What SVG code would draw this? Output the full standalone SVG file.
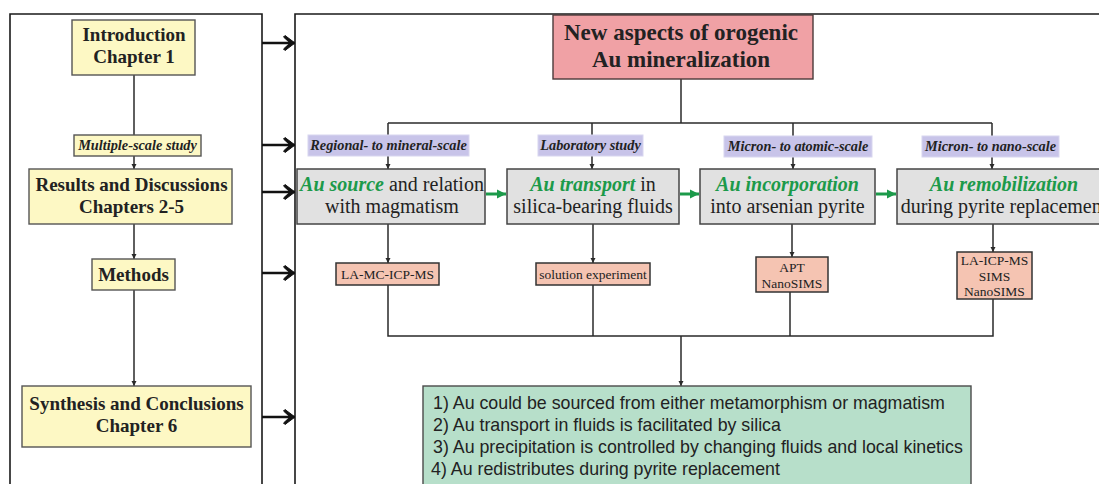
<svg xmlns="http://www.w3.org/2000/svg" width="1099" height="484" viewBox="0 0 1099 484">
<defs>
<style>
.frame{fill:none;stroke:#1a1a1a;stroke-width:1.6}
.ln{fill:none;stroke:#2a2a2a;stroke-width:1.5}
.yel{fill:#fdf8c4;stroke:#555;stroke-width:1.4}
.pink{fill:#f0a1a5;stroke:#4a3a3a;stroke-width:1.4}
.pur{fill:#c8c4e9;stroke:#d8d6ef;stroke-width:1}
.gray{fill:#e1e1e1;stroke:#444;stroke-width:1.5}
.meth{fill:#f5c4b2;stroke:#333;stroke-width:1.5}
.grn{fill:#b7dfca;stroke:#4a4a4a;stroke-width:1.4}
.tb{font-family:"Liberation Serif","Times New Roman",serif;font-weight:bold;fill:#222;text-anchor:middle}
.tl{font-family:"Liberation Serif","Times New Roman",serif;font-weight:bold;font-style:italic;font-size:14.3px;fill:#222;text-anchor:middle}
.tp{font-family:"Liberation Serif","Times New Roman",serif;font-size:20px;fill:#222;text-anchor:middle}
.g{fill:#1c9a4a;font-weight:bold;font-style:italic}
.tm{font-family:"Liberation Serif","Times New Roman",serif;font-size:13.5px;fill:#222;text-anchor:middle}
.ts{font-family:"Liberation Sans",Arial,sans-serif;font-size:17.8px;fill:#222}
.big{fill:none;stroke:#111;stroke-width:2.6}
.garr{fill:none;stroke:#1c9a4a;stroke-width:3}
</style>
<marker id="blk" markerUnits="userSpaceOnUse" markerWidth="16" markerHeight="18" refX="13" refY="8" orient="auto" viewBox="0 0 16 16">
<path d="M13,8 L3,0.5 L1.5,2 L8,8 L1.5,14 L3,15.5 Z" fill="#111" stroke="#111" stroke-width="1" stroke-linejoin="round"/>
</marker>
<marker id="sm" markerUnits="userSpaceOnUse" markerWidth="6" markerHeight="6" refX="5" refY="3" orient="auto" viewBox="0 0 6 6">
<path d="M0,0.5 L5,3 L0,5.5 Z" fill="#2a2a2a"/>
</marker>
<marker id="gh" markerUnits="userSpaceOnUse" markerWidth="10" markerHeight="10" refX="9" refY="5" orient="auto" viewBox="0 0 10 10">
<path d="M0,0.5 L9,5 L0,9.5 Z" fill="#1c9a4a"/>
</marker>
</defs>

<g id="frames">
<path class="frame" d="M10,484 V14 H262 V484"/>
<path class="frame" d="M295,484 V14 H1099"/>
</g>

<g id="connectors">
<line class="ln" x1="134" y1="75" x2="134" y2="135"/>
<line class="ln" x1="134" y1="156" x2="134" y2="169" marker-end="url(#sm)"/>
<line class="ln" x1="134" y1="224" x2="134" y2="259" marker-end="url(#sm)"/>
<line class="ln" x1="134" y1="290" x2="134" y2="386" marker-end="url(#sm)"/>
<line class="big" x1="262" y1="43" x2="295" y2="43" marker-end="url(#blk)"/>
<line class="big" x1="262" y1="145" x2="295" y2="145" marker-end="url(#blk)"/>
<line class="big" x1="262" y1="192" x2="295" y2="192" marker-end="url(#blk)"/>
<line class="big" x1="262" y1="273" x2="295" y2="273" marker-end="url(#blk)"/>
<line class="big" x1="262" y1="417" x2="295" y2="417" marker-end="url(#blk)"/>
<line class="ln" x1="681" y1="79" x2="681" y2="123"/>
<line class="ln" x1="388" y1="123" x2="992" y2="123"/>
<line class="ln" x1="388" y1="123" x2="388" y2="135"/>
<line class="ln" x1="592" y1="123" x2="592" y2="135"/>
<line class="ln" x1="793" y1="123" x2="793" y2="136"/>
<line class="ln" x1="992" y1="123" x2="992" y2="136"/>
<line class="ln" x1="388" y1="156" x2="388" y2="169" marker-end="url(#sm)"/>
<line class="ln" x1="592" y1="156" x2="592" y2="169" marker-end="url(#sm)"/>
<line class="ln" x1="793" y1="157" x2="793" y2="169" marker-end="url(#sm)"/>
<line class="ln" x1="992" y1="157" x2="992" y2="169" marker-end="url(#sm)"/>
<line class="garr" x1="486" y1="194" x2="506" y2="194" marker-end="url(#gh)"/>
<line class="garr" x1="680" y1="194" x2="699" y2="194" marker-end="url(#gh)"/>
<line class="garr" x1="876" y1="194" x2="896" y2="194" marker-end="url(#gh)"/>
<line class="ln" x1="388" y1="224" x2="388" y2="263" marker-end="url(#sm)"/>
<line class="ln" x1="593" y1="224" x2="593" y2="263" marker-end="url(#sm)"/>
<line class="ln" x1="792" y1="224" x2="792" y2="257" marker-end="url(#sm)"/>
<line class="ln" x1="993" y1="224" x2="993" y2="252" marker-end="url(#sm)"/>
<path class="ln" d="M388,285 V336 H993 V299"/>
<line class="ln" x1="593" y1="285" x2="593" y2="336"/>
<line class="ln" x1="790" y1="292" x2="790" y2="336"/>
<line class="ln" x1="681" y1="336" x2="681" y2="386" marker-end="url(#sm)"/>
</g>

<g id="intro">
<rect class="yel" x="72" y="20" width="123" height="55"/>
<text class="tb" font-size="19" x="134" y="41">Introduction</text>
<text class="tb" font-size="19" x="134" y="63">Chapter 1</text>
</g>
<g id="multiscale">
<rect class="yel" x="74" y="135" width="127" height="21"/>
<text class="tl" x="137.5" y="150">Multiple-scale study</text>
</g>
<g id="results">
<rect class="yel" x="29" y="169" width="203" height="55"/>
<text class="tb" font-size="19" x="131.5" y="191">Results and Discussions</text>
<text class="tb" font-size="19" x="131.5" y="213">Chapters 2-5</text>
</g>
<g id="methods">
<rect class="yel" x="92" y="259" width="83" height="31"/>
<text class="tb" font-size="19" x="133.5" y="281">Methods</text>
</g>
<g id="synthesis">
<rect class="yel" x="22" y="386" width="229" height="61"/>
<text class="tb" font-size="19" x="136.5" y="410">Synthesis and Conclusions</text>
<text class="tb" font-size="19" x="136.5" y="432">Chapter 6</text>
</g>

<g id="title">
<rect class="pink" x="553" y="15" width="260" height="64"/>
<text class="tb" font-size="23" x="681" y="40">New aspects of orogenic</text>
<text class="tb" font-size="23" x="681" y="67">Au mineralization</text>
</g>

<g id="label1">
<rect class="pur" x="308" y="135" width="161" height="21"/>
<text class="tl" x="388.5" y="150">Regional- to mineral-scale</text>
</g>
<g id="label2">
<rect class="pur" x="538" y="135" width="105" height="21"/>
<text class="tl" x="590.5" y="150">Laboratory study</text>
</g>
<g id="label3">
<rect class="pur" x="724" y="136" width="148" height="21"/>
<text class="tl" x="798" y="151">Micron- to atomic-scale</text>
</g>
<g id="label4">
<rect class="pur" x="922" y="136" width="137" height="21"/>
<text class="tl" x="990.5" y="151">Micron- to nano-scale</text>
</g>

<g id="source">
<rect class="gray" x="297" y="169" width="188" height="55"/>
<text class="tp" x="392" y="191"><tspan class="g">Au source</tspan> and relation</text>
<text class="tp" x="392" y="213">with magmatism</text>
</g>
<g id="transport">
<rect class="gray" x="507" y="169" width="172" height="55"/>
<text class="tp" x="593" y="191"><tspan class="g">Au transport</tspan> in</text>
<text class="tp" x="593" y="213">silica-bearing fluids</text>
</g>
<g id="incorporation">
<rect class="gray" x="700" y="169" width="175" height="55"/>
<text class="tp" x="787.5" y="191"><tspan class="g">Au incorporation</tspan></text>
<text class="tp" x="787.5" y="213">into arsenian pyrite</text>
</g>
<g id="remobilization">
<rect class="gray" x="897" y="169" width="214" height="55"/>
<text class="tp" x="1004" y="191"><tspan class="g">Au remobilization</tspan></text>
<text class="tp" x="1004" y="213">during pyrite replacement</text>
</g>

<g id="m1">
<rect class="meth" x="336" y="263" width="103" height="22"/>
<text class="tm" x="387.5" y="279">LA-MC-ICP-MS</text>
</g>
<g id="m2">
<rect class="meth" x="536" y="263" width="114" height="22"/>
<text class="tm" x="593" y="279">solution experiment</text>
</g>
<g id="m3">
<rect class="meth" x="756" y="257" width="72" height="35"/>
<text class="tm" x="792" y="272">APT</text>
<text class="tm" x="792" y="288">NanoSIMS</text>
</g>
<g id="m4">
<rect class="meth" x="957" y="252" width="75" height="47"/>
<text class="tm" x="994.5" y="265">LA-ICP-MS</text>
<text class="tm" x="994.5" y="281">SIMS</text>
<text class="tm" x="994.5" y="296">NanoSIMS</text>
</g>

<g id="conclusions">
<rect class="grn" x="423" y="386" width="548" height="110"/>
<text class="ts" x="433" y="409">1) Au could be sourced from either metamorphism or magmatism</text>
<text class="ts" x="433" y="431">2) Au transport in fluids is facilitated by silica</text>
<text class="ts" x="433" y="453">3) Au precipitation is controlled by changing fluids and local kinetics</text>
<text class="ts" x="431" y="475">4) Au redistributes during pyrite replacement</text>
</g>
</svg>
